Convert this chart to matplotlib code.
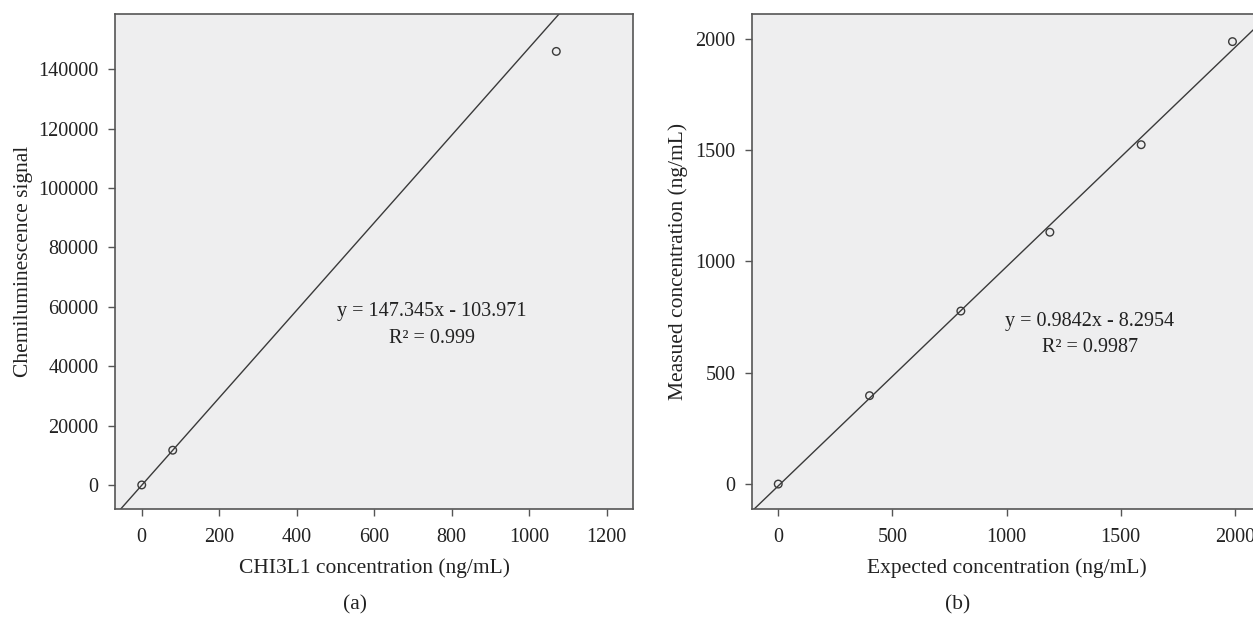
import matplotlib
matplotlib.use("Agg")
import matplotlib.pyplot as plt
import numpy as np

plt.rcParams['font.family'] = ['Liberation Serif', 'DejaVu Serif']

# Panel (a) data
conc_a = [0, 80, 1070]
signal_a = [0, 11700, 146000]
slope_a, icpt_a = 147.345, -103.971
xticks_a = [0, 200, 400, 600, 800, 1000, 1200]
yticks_a = [0, 20000, 40000, 60000, 80000, 100000, 120000, 140000]

# Panel (b) data
expected_b = [0, 400, 800, 1190, 1590, 1990]
measured_b = [0, 397, 777, 1131, 1524, 1987]
slope_b, icpt_b = 0.9842, -8.2954
xticks_b = [0, 500, 1000, 1500, 2000]
yticks_b = [0, 500, 1000, 1500, 2000]

W, H = 1253, 618
fig = plt.figure(figsize=(W/100, H/100), dpi=100)

bg = '#eeeeef'
spine_c = '#555555'
line_c = '#3a3a3a'
txt_c = '#222222'
fs = 14.5
lfs = 15.5

def px_axes(l, t, r, b):
    return fig.add_axes([l/W, 1-b/H, (r-l)/W, (b-t)/H])

def style(ax):
    ax.set_facecolor(bg)
    for s in ax.spines.values():
        s.set_color(spine_c)
        s.set_linewidth(1.2)
    ax.tick_params(direction='out', length=5, width=1, color=spine_c,
                   labelsize=fs, labelcolor=txt_c)
    ax.tick_params(axis='x', pad=9)
    ax.tick_params(axis='y', pad=7)

# Panel a
ax1 = px_axes(115, 14, 633, 509)
style(ax1)
ax1.set_xlim(-69, 1268)
ax1.set_ylim(-8100, 158600)
xx = np.array([-100, 1300])
ax1.plot(xx, slope_a*xx + icpt_a, color=line_c, lw=1.0)
ax1.scatter(conc_a, signal_a, s=30, facecolors='none', edgecolors=line_c, linewidths=1.0, zorder=3)
ax1.set_xticks(xticks_a)
ax1.set_yticks(yticks_a)
ax1.set_xlabel('CHI3L1 concentration (ng/mL)', fontsize=lfs, color=txt_c, labelpad=8)
ax1.set_ylabel('Chemiluminescence signal', fontsize=lfs, color=txt_c, labelpad=4)
ax1.text(748, 53900, 'y = 147.345x - 103.971\nR² = 0.999', fontsize=fs,
         ha='center', va='center', multialignment='center', color=txt_c, linespacing=1.55)

# Panel b
ax2 = px_axes(752, 14, 1261, 509)
style(ax2)
ax2.set_xlim(-115, 2115)
ax2.set_ylim(-112, 2111)
xx2 = np.array([-200, 2300])
ax2.plot(xx2, slope_b*xx2 + icpt_b, color=line_c, lw=1.0)
ax2.scatter(expected_b, measured_b, s=30, facecolors='none', edgecolors=line_c, linewidths=1.0, zorder=3)
ax2.set_xticks(xticks_b)
ax2.set_yticks(yticks_b)
ax2.set_xlabel('Expected concentration (ng/mL)', fontsize=lfs, color=txt_c, labelpad=8)
ax2.set_ylabel('Measued concentration (ng/mL)', fontsize=lfs, color=txt_c, labelpad=5)
ax2.text(1366, 672, 'y = 0.9842x - 8.2954\nR² = 0.9987', fontsize=fs,
         ha='center', va='center', multialignment='center', color=txt_c, linespacing=1.55)

fig.text(355/W, 1-605/H, '(a)', fontsize=lfs, ha='center', va='center', color=txt_c)
fig.text(958/W, 1-605/H, '(b)', fontsize=lfs, ha='center', va='center', color=txt_c)

fig.savefig('out.png', dpi=100, facecolor='white')
